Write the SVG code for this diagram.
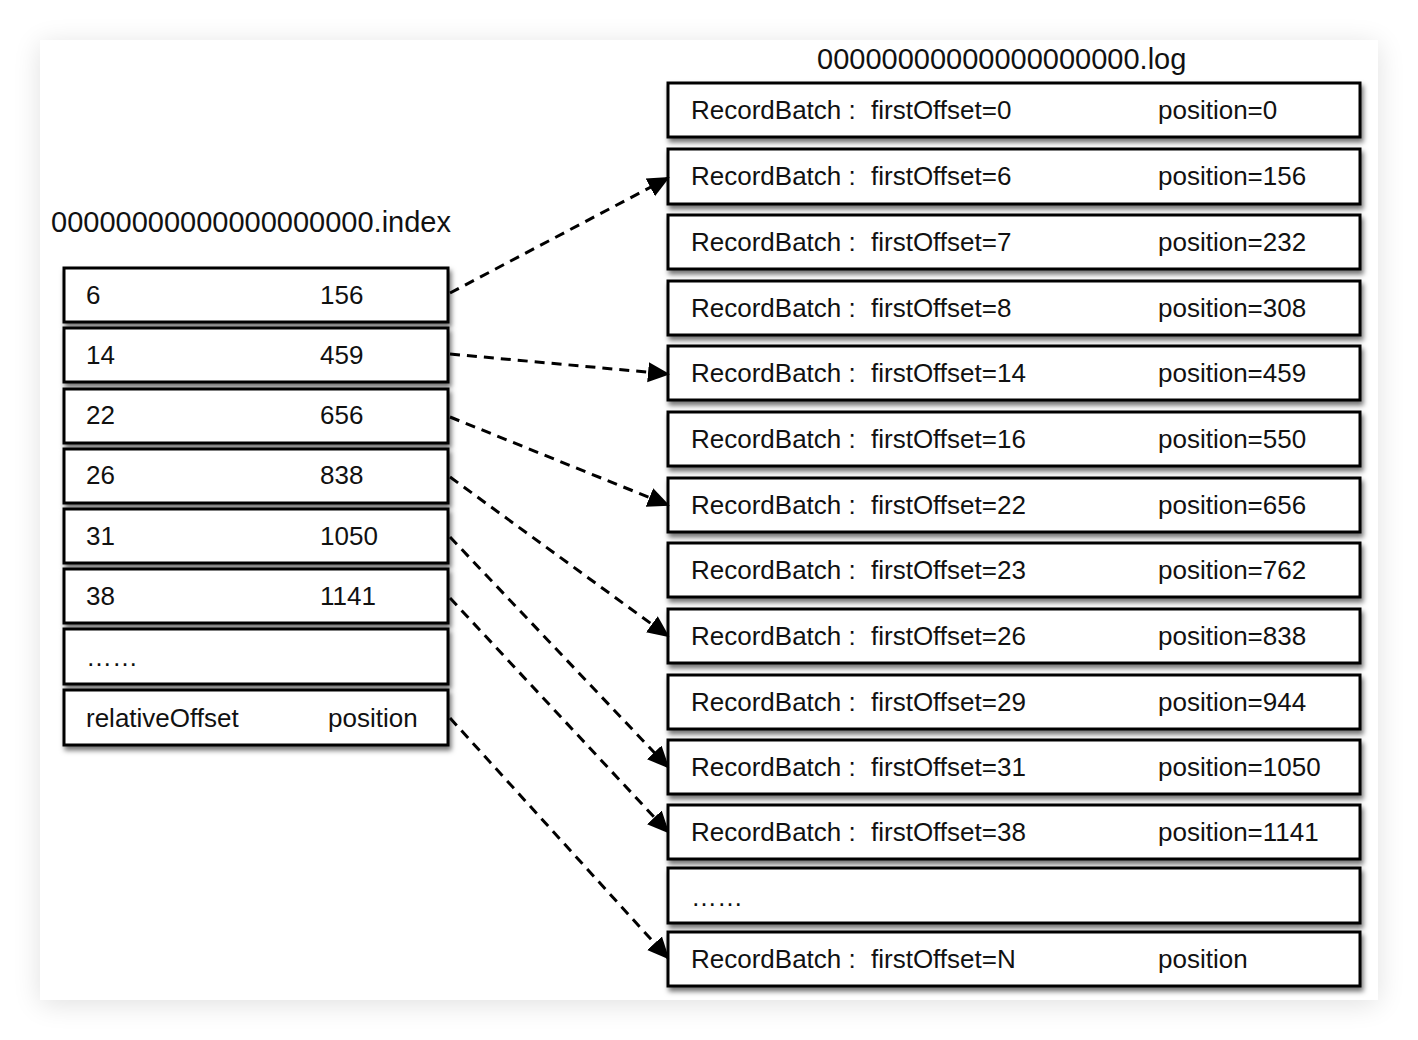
<svg xmlns="http://www.w3.org/2000/svg" width="1418" height="1040" viewBox="0 0 1418 1040">
<style>
text{font-family:"Liberation Sans",Arial,sans-serif;fill:#111}
.t{font-size:26px}
.h{font-size:29px}
.box{fill:#fff;stroke:#000;stroke-width:3;filter:url(#sh)}
.c{fill:none;stroke:#000;stroke-width:3;stroke-dasharray:10 7;marker-end:url(#ah)}
</style>
<defs>
<filter id="sh" x="-5%" y="-20%" width="115%" height="160%">
<feDropShadow dx="2" dy="4" stdDeviation="2.5" flood-color="#000" flood-opacity="0.55"/>
</filter>
<filter id="ps" x="-10%" y="-10%" width="120%" height="120%">
<feGaussianBlur stdDeviation="14"/>
</filter>
<marker id="ah" viewBox="0 0 22 22" refX="20" refY="11" markerWidth="22" markerHeight="22" markerUnits="userSpaceOnUse" orient="auto">
<path d="M0,1 L22,11 L0,21 Z" fill="#000"/>
</marker>
</defs>
<rect x="0" y="0" width="1418" height="1040" fill="#fff"/>
<rect x="40" y="44" width="1338" height="960" fill="#000" opacity="0.12" filter="url(#ps)"/>
<rect x="40" y="40" width="1338" height="960" fill="#fff"/>

<text class="h" x="51" y="232">00000000000000000000.index</text>
<text class="h" x="817" y="69">00000000000000000000.log</text>

<g id="index">
<g id="i0"><rect class="box" x="64" y="268" width="384" height="54"/><text class="t" x="86" y="304">6</text><text class="t" x="320" y="304">156</text></g>
<g id="i1"><rect class="box" x="64" y="328" width="384" height="54"/><text class="t" x="86" y="364">14</text><text class="t" x="320" y="364">459</text></g>
<g id="i2"><rect class="box" x="64" y="389" width="384" height="54"/><text class="t" x="86" y="424">22</text><text class="t" x="320" y="424">656</text></g>
<g id="i3"><rect class="box" x="64" y="449" width="384" height="54"/><text class="t" x="86" y="484">26</text><text class="t" x="320" y="484">838</text></g>
<g id="i4"><rect class="box" x="64" y="509" width="384" height="54"/><text class="t" x="86" y="545">31</text><text class="t" x="320" y="545">1050</text></g>
<g id="i5"><rect class="box" x="64" y="569" width="384" height="54"/><text class="t" x="86" y="605">38</text><text class="t" x="320" y="605">1141</text></g>
<g id="i6"><rect class="box" x="64" y="629" width="384" height="55"/><text class="t" x="86" y="666">……</text></g>
<g id="i7"><rect class="box" x="64" y="690" width="384" height="55"/><text class="t" x="86" y="727">relativeOffset</text><text class="t" x="328" y="727">position</text></g>
</g>

<g id="log">
<g id="l0"><rect class="box" x="668" y="83" width="692" height="54"/><text class="t" x="691" y="119">RecordBatch :</text><text class="t" x="871" y="119">firstOffset=0</text><text class="t" x="1158" y="119">position=0</text></g>
<g id="l1"><rect class="box" x="668" y="149" width="692" height="55"/><text class="t" x="691" y="185">RecordBatch :</text><text class="t" x="871" y="185">firstOffset=6</text><text class="t" x="1158" y="185">position=156</text></g>
<g id="l2"><rect class="box" x="668" y="215" width="692" height="54"/><text class="t" x="691" y="251">RecordBatch :</text><text class="t" x="871" y="251">firstOffset=7</text><text class="t" x="1158" y="251">position=232</text></g>
<g id="l3"><rect class="box" x="668" y="281" width="692" height="54"/><text class="t" x="691" y="317">RecordBatch :</text><text class="t" x="871" y="317">firstOffset=8</text><text class="t" x="1158" y="317">position=308</text></g>
<g id="l4"><rect class="box" x="668" y="346" width="692" height="54"/><text class="t" x="691" y="382">RecordBatch :</text><text class="t" x="871" y="382">firstOffset=14</text><text class="t" x="1158" y="382">position=459</text></g>
<g id="l5"><rect class="box" x="668" y="412" width="692" height="54"/><text class="t" x="691" y="448">RecordBatch :</text><text class="t" x="871" y="448">firstOffset=16</text><text class="t" x="1158" y="448">position=550</text></g>
<g id="l6"><rect class="box" x="668" y="478" width="692" height="54"/><text class="t" x="691" y="514">RecordBatch :</text><text class="t" x="871" y="514">firstOffset=22</text><text class="t" x="1158" y="514">position=656</text></g>
<g id="l7"><rect class="box" x="668" y="543" width="692" height="54"/><text class="t" x="691" y="579">RecordBatch :</text><text class="t" x="871" y="579">firstOffset=23</text><text class="t" x="1158" y="579">position=762</text></g>
<g id="l8"><rect class="box" x="668" y="609" width="692" height="54"/><text class="t" x="691" y="645">RecordBatch :</text><text class="t" x="871" y="645">firstOffset=26</text><text class="t" x="1158" y="645">position=838</text></g>
<g id="l9"><rect class="box" x="668" y="675" width="692" height="54"/><text class="t" x="691" y="711">RecordBatch :</text><text class="t" x="871" y="711">firstOffset=29</text><text class="t" x="1158" y="711">position=944</text></g>
<g id="l10"><rect class="box" x="668" y="740" width="692" height="54"/><text class="t" x="691" y="776">RecordBatch :</text><text class="t" x="871" y="776">firstOffset=31</text><text class="t" x="1158" y="776">position=1050</text></g>
<g id="l11"><rect class="box" x="668" y="805" width="692" height="54"/><text class="t" x="691" y="841">RecordBatch :</text><text class="t" x="871" y="841">firstOffset=38</text><text class="t" x="1158" y="841">position=1141</text></g>
<g id="l12"><rect class="box" x="668" y="868" width="692" height="55"/><text class="t" x="691" y="906">……</text></g>
<g id="l13"><rect class="box" x="668" y="932" width="692" height="54"/><text class="t" x="691" y="968">RecordBatch :</text><text class="t" x="871" y="968">firstOffset=N</text><text class="t" x="1158" y="968">position</text></g>
</g>

<g id="connectors">
<path class="c" d="M450,293 L668,178"/>
<path class="c" d="M450,354 L668,374"/>
<path class="c" d="M450,417 L668,505"/>
<path class="c" d="M450,477 L668,636"/>
<path class="c" d="M450,537 L668,767"/>
<path class="c" d="M450,598 L668,832"/>
<path class="c" d="M450,718 L668,958"/>
</g>
</svg>
